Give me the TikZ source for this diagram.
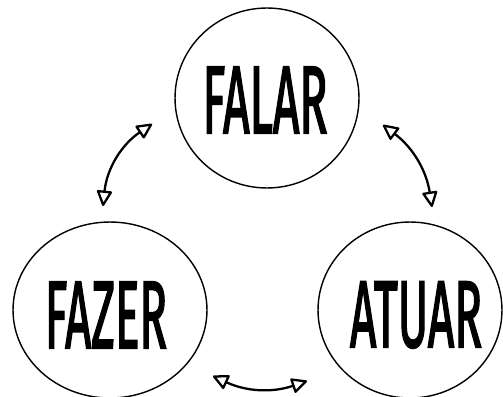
\documentclass[tikz,border=0pt]{standalone}
\usepackage{fontspec}
\setmainfont{Fira Sans}
\newfontfamily\brushfont{Fira Sans}[FakeBold=2.5]
\usetikzlibrary{shapes.geometric,arrows.meta}
\begin{document}
\begin{tikzpicture}[x=0.02cm,y=0.02cm,
  bubble/.style={draw, ellipse, line width=0.8pt, inner sep=0pt},
  word/.style={font=\brushfont, inner sep=0pt},
  link/.style={line width=1.3pt, line cap=round,
    {Triangle[open,length=0.34cm,width=0.32cm,round]}-{Triangle[open,length=0.34cm,width=0.32cm,round]}}]
\useasboundingbox (0,0) rectangle (503,396);

% the three bubbles
\node[bubble, minimum width=3.68cm, minimum height=3.6cm] (falar) at (267,298) {};
\node[bubble, minimum width=3.88cm, minimum height=3.52cm] (fazer) at (110,86) {};
\node[bubble, minimum width=3.68cm, minimum height=3.52cm] (atuar) at (410,86) {};

% lettering
\node[word] (tfalar) at (265,296) {\resizebox{2.5cm}{1.32cm}{FALAR}};
\node[word] (tfazer) at (106,81) {\resizebox{2.44cm}{1.32cm}{FAZER}};
\node[word] (tatuar) at (416,81) {\resizebox{2.64cm}{1.3cm}{ATUAR}};

% two-way arrows between the bubbles
\coordinate (la) at (103,190);
\coordinate (lb) at (152,272);
\draw[link] (la) to[bend left=25] (lb);

\coordinate (ra) at (383,271);
\coordinate (rb) at (432,189);
\draw[link] (ra) to[bend left=22] (rb);

\coordinate (ba) at (213,20);
\coordinate (bb) at (307,15);
\draw[link] (ba) to[bend right=22] (bb);
\end{tikzpicture}
\end{document}
